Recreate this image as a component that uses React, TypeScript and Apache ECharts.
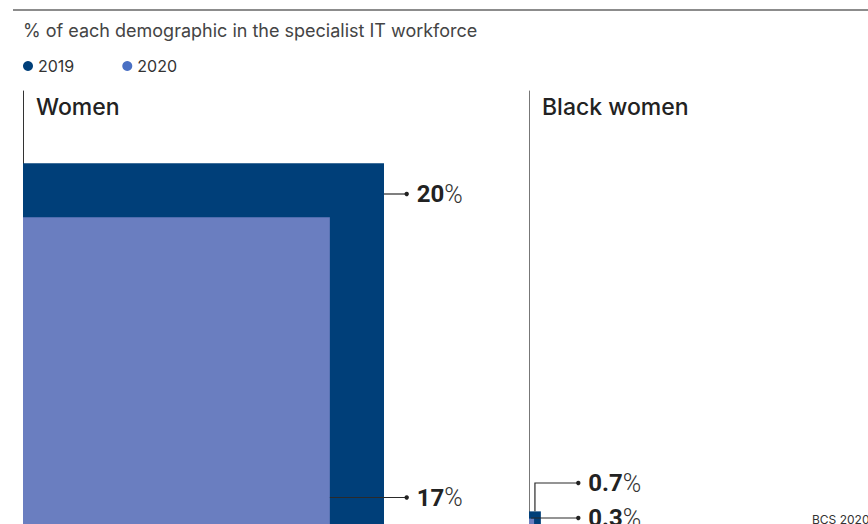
import React, { useEffect, useRef } from "react";
import * as echarts from "echarts";

const panels = ["Women", "Black women"];
const years = ["2019", "2020"];
const values2019 = [20, 0.7];
const values2020 = [17, 0.3];
const subtitle = "% of each demographic in the specialist IT workforce";
const source = "BCS 2020";

const COLORS = ["#003f79", "#6a7ec0"];
const LEGEND_COLORS = ["#003f79", "#4a70c4"];
// layout: label height above panel bottom (px) per panel / year, and dot x offset from panel left
const LABEL_OFFSET = [
  [330, 26.5],
  [41, 6],
];
const DOT_X = [383.7, 49.3];
const GRID_LEFT = [23, 529];
const AXIS_COLOR = ["#333", "#777"];

const FONT = "Inter, 'Noto Sans', sans-serif";
const NUM_FONT = "Roboto, 'Noto Sans', sans-serif";

function makeRender(panel: number, yearIdx: number) {
  return (params: any, api: any) => {
    const v = api.value(0);
    const origin = api.coord([0, 0]);
    const corner = api.coord([v, v]);
    const left = origin[0];
    const bottom = origin[1];
    const right = corner[0];
    const top = corner[1];
    const labelY = bottom - LABEL_OFFSET[panel][yearIdx];
    const dotX = left + DOT_X[panel];
    let pts: number[][];
    if (labelY < top) {
      const cx = (left + right) / 2;
      pts = [
        [cx, top],
        [cx, labelY],
        [dotX, labelY],
      ];
    } else {
      pts = [
        [right, labelY],
        [dotX, labelY],
      ];
    }
    return {
      type: "group",
      children: [
        {
          type: "rect",
          shape: { x: left, y: top, width: right - left, height: bottom - top },
          style: { fill: COLORS[yearIdx] },
        },
        {
          type: "polyline",
          shape: { points: pts },
          style: { stroke: "#2a2a2a", lineWidth: 1.2, fill: null },
        },
        {
          type: "circle",
          shape: { cx: dotX, cy: labelY, r: 2.2 },
          style: { fill: "#222" },
        },
        {
          type: "text",
          x: dotX + 10,
          y: labelY,
          style: {
            text: `{b|${String(v)}}{p|%}`,
            verticalAlign: "middle",
            align: "left",
            rich: {
              b: { fontSize: 24, fontWeight: "bold", fontFamily: NUM_FONT, fill: "#222", color: "#222" },
              p: { fontSize: 25, fontWeight: 300, fontFamily: NUM_FONT, fill: "#333", color: "#333" },
            },
          },
        },
      ],
    };
  };
}

export default function App() {
  const ref = useRef<HTMLDivElement>(null);
  useEffect(() => {
    if (!ref.current) return;
    const chart = echarts.init(ref.current, undefined, { renderer: "svg" });
    const grids = panels.map((_, i) => ({
      left: GRID_LEFT[i],
      top: 91,
      width: 361,
      height: 433,
      containLabel: false,
    }));
    const xAxes = panels.map((_, i) => ({
      type: "value",
      gridIndex: i,
      min: 0,
      max: 20,
      show: false,
    }));
    const yAxes = panels.map((_, i) => ({
      type: "value",
      gridIndex: i,
      min: 0,
      max: 24,
      offset: 1,
      axisLine: { show: true, lineStyle: { color: AXIS_COLOR[i], width: 1 } },
      axisTick: { show: false },
      axisLabel: { show: false },
      splitLine: { show: false },
    }));
    const series: any[] = [];
    years.forEach((year, yi) => {
      const vals = yi === 0 ? values2019 : values2020;
      panels.forEach((_, pi) => {
        series.push({
          type: "custom",
          name: year,
          xAxisIndex: pi,
          yAxisIndex: pi,
          clip: false,
          itemStyle: { color: COLORS[yi] },
          renderItem: makeRender(pi, yi),
          data: [[vals[pi], vals[pi]]],
          z: 2 + yi,
        });
      });
    });
    chart.setOption({
      animation: false,
      grid: grids,
      xAxis: xAxes,
      yAxis: yAxes,
      legend: {
        left: 18,
        top: 53,
        icon: "circle",
        itemWidth: 10,
        itemHeight: 10,
        itemGap: 48,
        textStyle: { fontFamily: FONT, fontSize: 16, color: "#333" },
        data: years.map((y, i) => ({ name: y, itemStyle: { color: LEGEND_COLORS[i] } })),
        selectedMode: false,
      },
      graphic: [
        {
          type: "line",
          shape: { x1: 13, y1: 10, x2: 868, y2: 10 },
          style: { stroke: "#666", lineWidth: 1.5 },
        },
        {
          type: "text",
          x: 23,
          y: 30,
          style: {
            text: subtitle,
            fontFamily: FONT,
            fontSize: 18,
            fill: "#444",
            verticalAlign: "middle",
          },
        },
        ...panels.map((p, i) => ({
          type: "text",
          x: GRID_LEFT[i] + 13,
          y: 107,
          style: {
            text: p,
            fontFamily: FONT,
            fontSize: 23,
            fontWeight: 500,
            fill: "#222",
            verticalAlign: "middle",
          },
        })),
        {
          type: "text",
          x: 812,
          y: 519,
          style: {
            text: source,
            fontFamily: FONT,
            fontSize: 12,
            fill: "#333",
            verticalAlign: "middle",
          },
        },
      ],
      series,
    });
    return () => chart.dispose();
  }, []);
  return (
    <div
      ref={ref}
      style={{ position: "fixed", left: 0, top: 0, width: 868, height: 524, background: "#fff" }}
    />
  );
}
